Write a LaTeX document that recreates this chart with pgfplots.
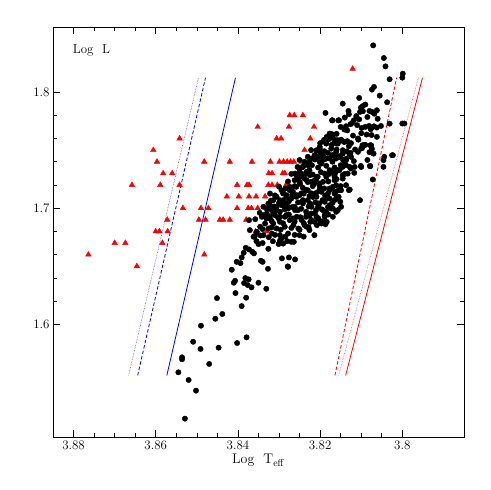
\documentclass[border=0pt]{standalone}
\usepackage{pgfplots}
\pgfplotsset{compat=1.18}
\begin{document}
\begin{tikzpicture}
\begin{axis}[
  scale only axis, width=411bp, height=410bp,
  x dir=reverse, xmin=3.785, xmax=3.885, ymin=1.503, ymax=1.856,
  xtick={3.80,3.82,3.84,3.86,3.88}, xticklabels={3.8,3.82,3.84,3.86,3.88},
  ytick={1.6,1.7,1.8}, yticklabels={1.6,1.7,1.8},
  minor x tick num=3, minor y tick num=4,
  tick align=inside, major tick length=7bp, minor tick length=4bp,
  tick style={black, line width=0.6pt},
  axis line style={line width=0.8pt},
  tick label style={font=\fontsize{13}{15}\selectfont},
  xlabel={Log\ \ T$_{\mathrm{eff}}$},
  xlabel style={font=\fontsize{14}{16}\selectfont, yshift=2bp},
]
% instability strip edges
\addplot[blue!70, densely dotted, line width=0.6pt] coordinates {(3.8666,1.556) (3.8496,1.8123)};
\addplot[blue, dash pattern=on 3.5bp off 2bp, line width=0.8pt] coordinates {(3.8644,1.556) (3.8479,1.8123)};
\addplot[blue, line width=0.8pt] coordinates {(3.8573,1.556) (3.8406,1.8123)};
\addplot[red, dash pattern=on 3.5bp off 2bp, line width=0.8pt] coordinates {(3.8164,1.556) (3.8014,1.8123)};
\addplot[red!70, densely dotted, line width=0.6pt] coordinates {(3.8155,1.556) (3.7961,1.8123)};
\addplot[red, line width=0.8pt] coordinates {(3.8138,1.556) (3.7951,1.8123)};
% red triangles
\addplot[only marks, mark=triangle*, mark size=3.2bp, red] coordinates {
(3.8764,1.66) (3.8700,1.67) (3.8674,1.67) (3.8646,1.65) (3.8658,1.72) (3.8606,1.75)
(3.8597,1.74) (3.8582,1.73) (3.8589,1.72) (3.8560,1.73) (3.8542,1.76) (3.8542,1.72)
(3.8534,1.70) (3.8572,1.69) (3.8600,1.68) (3.8591,1.68) (3.8571,1.68) (3.8584,1.67)
(3.8482,1.74) (3.8490,1.70) (3.8472,1.70) (3.8495,1.69) (3.8479,1.69) (3.8482,1.66)
(3.8444,1.69) (3.8436,1.69) (3.8420,1.69) (3.8420,1.74) (3.8427,1.71) (3.8402,1.72)
(3.8398,1.71) (3.8402,1.70) (3.8378,1.72) (3.8373,1.72) (3.8373,1.71) (3.8380,1.69)
(3.8375,1.70) (3.8367,1.70) (3.8352,1.70) (3.8356,1.71) (3.8366,1.74) (3.8352,1.77)
(3.8334,1.71) (3.8330,1.68) (3.8357,1.68) (3.8326,1.72) (3.8317,1.72) (3.8304,1.72)
(3.8325,1.73) (3.8317,1.73) (3.8321,1.74) (3.8306,1.76) (3.8295,1.76) (3.8299,1.74)
(3.8289,1.74) (3.8280,1.74) (3.8272,1.74) (3.8264,1.74) (3.8291,1.73) (3.8286,1.73)
(3.8283,1.72) (3.8276,1.77) (3.8274,1.78) (3.8263,1.78) (3.8242,1.78) (3.8215,1.77)
(3.8224,1.76) (3.8238,1.75) (3.8245,1.74) (3.8246,1.72) (3.8121,1.82)
};
% black dots
\addplot[only marks, mark=*, mark size=2.7bp, black] coordinates {
(3.8403,1.6538) (3.8394,1.6527) (3.8415,1.6470) (3.8340,1.6538) (3.8327,1.6478) (3.8279,1.6499)
(3.8407,1.6375) (3.8410,1.6358) (3.8382,1.6398) (3.8374,1.6387) (3.8385,1.6355) (3.8376,1.6338)
(3.8367,1.6318) (3.8350,1.6358) (3.8331,1.6306) (3.8406,1.6269) (3.8380,1.6229) (3.8451,1.6226)
(3.8391,1.6157) (3.8438,1.6089) (3.8455,1.6048) (3.8490,1.5988) (3.8509,1.5850) (3.8491,1.5788)
(3.8447,1.5799) (3.8402,1.5839) (3.8379,1.5888) (3.8536,1.5716) (3.8536,1.5699) (3.8470,1.5659)
(3.8545,1.5587) (3.8520,1.5521) (3.8502,1.5429) (3.8529,1.5188)
(3.8391,1.6576) (3.8386,1.6616) (3.8381,1.6659) (3.8365,1.6624) (3.8361,1.6611) (3.8344,1.6547)
(3.8373,1.6645) (3.8355,1.6716) (3.8350,1.6691) (3.8359,1.6759) (3.8355,1.6788) (3.8326,1.6650)
(3.8301,1.6691) (3.8298,1.6719) (3.8294,1.6740) (3.8293,1.6568) (3.8276,1.6576) (3.8278,1.6495)
(3.8261,1.6559) (3.8264,1.6710) (3.8280,1.6716) (3.8250,1.6768) (3.8224,1.6882) (3.8208,1.6854)
(3.8187,1.6862) (3.8184,1.6882) (3.8373,1.6897) (3.8358,1.6905) (3.8347,1.6960)
(3.8338,1.7012) (3.8326,1.7040) (3.8318,1.6983) (3.8330,1.6954) (3.8342,1.6926) (3.8322,1.6911)
(3.8310,1.6940) (3.8298,1.6969) (3.8306,1.7012) (3.8290,1.7026) (3.8278,1.6997) (3.8286,1.6926)
(3.8274,1.6897) (3.8298,1.6883) (3.8314,1.6868) (3.8334,1.6868) (3.8346,1.6840) (3.8326,1.6825)
(3.8306,1.6825) (3.8286,1.6840) (3.8265,1.6854) (3.8253,1.6825) (3.8257,1.6926) (3.8245,1.6897)
(3.8233,1.6940) (3.8221,1.6897) (3.8209,1.6926) (3.8233,1.6840) (3.8197,1.6868) (3.8261,1.6983)
(3.8354,1.6797) (3.8338,1.6768) (3.8318,1.6782) (3.8298,1.6768) (3.8362,1.6754) (3.8371,1.6811)
(3.8278,1.6782) (3.8306,1.7098) (3.8282,1.7098) (3.8294,1.7155) (3.8270,1.7169) (3.8257,1.7112)
(3.8249,1.7212) (3.8241,1.7270) (3.8225,1.7284) (3.8261,1.7298) (3.8245,1.7055) (3.8225,1.7040)
(3.8217,1.7098) (3.8205,1.7012) (3.8189,1.7055) (3.8185,1.6969) (3.8169,1.6997) (3.8161,1.7083)
(3.8177,1.7155) (3.8201,1.7184) (3.8213,1.7241) (3.8185,1.7270) (3.8165,1.7241) (3.8233,1.7155)
(3.8322,1.7126) (3.8314,1.7069)
(3.8177,1.7642) (3.8171,1.7619) (3.8180,1.7591) (3.8189,1.7571) (3.8185,1.7556) (3.8165,1.7571)
(3.8157,1.7556) (3.8151,1.7579) (3.8141,1.7571) (3.8130,1.7534) (3.8201,1.7528) (3.8209,1.7499)
(3.8197,1.7476) (3.8205,1.7442) (3.8213,1.7419) (3.8173,1.7513) (3.8161,1.7485) (3.8169,1.7456)
(3.8153,1.7442) (3.8145,1.7470) (3.8137,1.7413) (3.8238,1.7399) (3.8230,1.7370) (3.8242,1.7356)
(3.8226,1.7327) (3.8234,1.7298) (3.8250,1.7333) (3.8246,1.7298) (3.8258,1.7284) (3.8262,1.7241)
(3.8250,1.7227) (3.8238,1.7255) (3.8222,1.7227) (3.8209,1.7270) (3.8201,1.7212) (3.8189,1.7298)
(3.8173,1.7313) (3.8165,1.7270) (3.8153,1.7327) (3.8145,1.7255) (3.8133,1.7298) (3.8161,1.7198)
(3.8177,1.7170) (3.8149,1.7155) (3.8137,1.7198) (3.8274,1.7184) (3.8266,1.7141) (3.8282,1.7112)
(3.8270,1.7084) (3.8290,1.7069) (3.8294,1.7026) (3.8278,1.7012) (3.8258,1.7098) (3.8246,1.7127)
(3.8234,1.7155) (3.8221,1.7127) (3.8209,1.7098) (3.8197,1.7141) (3.8185,1.7084) (3.8205,1.7041)
(3.8221,1.7012) (3.8242,1.7041) (3.8254,1.6983) (3.8234,1.6969) (3.8213,1.6955) (3.8193,1.6983)
(3.8177,1.7026) (3.8165,1.7069) (3.8157,1.6983) (3.8169,1.6926) (3.8189,1.6926) (3.8306,1.6983)
(3.8314,1.6955) (3.8323,1.6926) (3.8298,1.6926) (3.8282,1.6940) (3.8266,1.6912) (3.8331,1.6912)
(3.8242,1.7356) (3.8233,1.7313) (3.8250,1.7270) (3.8258,1.7184) (3.8274,1.7155) (3.8290,1.7127)
(3.8298,1.7069) (3.8306,1.7012) (3.8250,1.7112) (3.8282,1.7041) (3.8262,1.7012) (3.8242,1.7055)
(3.8233,1.7241) (3.8322,1.7026)
(3.8153,1.7447) (3.8141,1.7407) (3.8145,1.7356) (3.8137,1.7370) (3.8125,1.7341) (3.8117,1.7304)
(3.8145,1.7284) (3.8157,1.7327) (3.8165,1.7284) (3.8177,1.7327) (3.8169,1.7184) (3.8155,1.7155)
(3.8155,1.7098) (3.8151,1.7055) (3.8149,1.7012) (3.8161,1.6969) (3.8173,1.6997) (3.8163,1.7141)
(3.8189,1.6940) (3.8193,1.6883) (3.8214,1.6883) (3.8226,1.6811) (3.8214,1.6768) (3.8238,1.6854)
(3.8202,1.7040) (3.8210,1.6983) (3.8222,1.6954) (3.8234,1.6926) (3.8218,1.7098) (3.8202,1.7155)
(3.8214,1.7212) (3.8230,1.7155) (3.8242,1.7069) (3.8193,1.7227) (3.8206,1.7270) (3.8197,1.7384)
(3.8210,1.7442) (3.8181,1.7126) (3.8177,1.7083) (3.8173,1.7169)
(3.8126,1.7476) (3.8080,1.7482) (3.8023,1.7456) (3.8046,1.7413) (3.8046,1.7356) (3.8079,1.7364)
(3.8101,1.7364) (3.8072,1.7247) (3.8130,1.7155) (3.8103,1.7069) (3.8070,1.7470) (3.8085,1.7415)
(3.8191,1.7584) (3.8185,1.7596) (3.8169,1.7607) (3.8161,1.7584) (3.8149,1.7590) (3.8201,1.7513)
(3.8213,1.7455) (3.8193,1.7455) (3.8185,1.7427) (3.8201,1.7398) (3.8162,1.7441) (3.8136,1.7427)
(3.8141,1.7398) (3.8116,1.7355) (3.8100,1.7355) (3.8078,1.7361) (3.8107,1.7590) (3.8098,1.7518)
(3.8094,1.7541) (3.8076,1.7541) (3.8128,1.7160)
(3.8071,1.8402) (3.8045,1.8293) (3.8041,1.8221) (3.7999,1.8158) (3.8000,1.8124) (3.8031,1.8110)
(3.8069,1.8044) (3.8074,1.8021) (3.8055,1.7969) (3.8105,1.7949) (3.8037,1.7912) (3.8145,1.7900)
(3.8090,1.7892) (3.8097,1.7878) (3.8103,1.7829) (3.8096,1.7835) (3.8131,1.7837) (3.8130,1.7809)
(3.8080,1.7837) (3.8062,1.7843) (3.8074,1.7829) (3.8187,1.7820) (3.8171,1.7757) (3.8154,1.7757)
(3.8118,1.7757) (3.8122,1.7734) (3.8126,1.7723) (3.8137,1.7706) (3.8141,1.7677) (3.8099,1.7691)
(3.8081,1.7708) (3.8077,1.7680) (3.8062,1.7694) (3.8052,1.7708) (3.8000,1.7729) (3.7995,1.7729)
(3.8062,1.7614) (3.8108,1.7600) (3.8171,1.7637) (3.8177,1.7600) (3.8189,1.7591) (3.8184,1.7614)
(3.8157,1.7585) (3.8149,1.7585) (3.8142,1.7571) (3.8161,1.7557) (3.8134,1.7577) (3.8087,1.7634)
(3.8097,1.7542) (3.8100,1.7514) (3.8078,1.7542) (3.8074,1.7511) (3.8025,1.7456) (3.8044,1.7442)
(3.8201,1.7485) (3.8213,1.7456) (3.8181,1.7476) (3.8171,1.7456) (3.8145,1.7499) (3.8129,1.7470)
(3.8108,1.7485) (3.8230,1.7442) (3.8221,1.7428) (3.8193,1.7428) (3.8177,1.7428) (3.8161,1.7428)
(3.8125,1.7442) (3.8134,1.7670) (3.8170,1.7756) (3.8156,1.7756) (3.8068,1.7813) (3.8112,1.7793)
(3.8101,1.7865) (3.8075,1.7693) (3.8069,1.7705) (3.8031,1.7728)
(3.8318,1.6890) (3.8290,1.6870) (3.8262,1.6885) (3.8240,1.6872) (3.8200,1.6890)
(3.8338,1.6940) (3.8302,1.6915) (3.8276,1.6945) (3.8248,1.6922) (3.8226,1.6935) (3.8205,1.6915) (3.8180,1.6945)
(3.8330,1.6995) (3.8312,1.7015) (3.8286,1.6990) (3.8268,1.7010) (3.8246,1.6995) (3.8228,1.7015) (3.8196,1.6990) (3.8181,1.7010)
(3.8320,1.7065) (3.8300,1.7045) (3.8276,1.7060) (3.8254,1.7050) (3.8230,1.7070) (3.8212,1.7050) (3.8194,1.7070) (3.8170,1.7045)
(3.8310,1.7110) (3.8290,1.7130) (3.8268,1.7115) (3.8240,1.7125) (3.8226,1.7105) (3.8210,1.7130) (3.8188,1.7110) (3.8165,1.7125)
(3.8300,1.7185) (3.8284,1.7170) (3.8262,1.7190) (3.8242,1.7175) (3.8218,1.7190) (3.8190,1.7170) (3.8150,1.7190)
(3.8278,1.7230) (3.8256,1.7250) (3.8230,1.7225) (3.8210,1.7245) (3.8180,1.7230) (3.8160,1.7250)
(3.8270,1.7295) (3.8250,1.7310) (3.8218,1.7290) (3.8198,1.7310) (3.8178,1.7295) (3.8162,1.7310) (3.8140,1.7295)
(3.8255,1.7355) (3.8220,1.7370) (3.8205,1.7350) (3.8185,1.7365) (3.8165,1.7350) (3.8150,1.7370) (3.8128,1.7355)
(3.8250,1.7415) (3.8226,1.7400) (3.8190,1.7420) (3.8170,1.7400) (3.8145,1.7420) (3.8118,1.7405)
(3.8222,1.7500) (3.8190,1.7490) (3.8160,1.7505) (3.8135,1.7490) (3.8115,1.7505)
(3.8200,1.7560) (3.8172,1.7545) (3.8125,1.7560) (3.8090,1.7545)
(3.8160,1.7640) (3.8120,1.7625) (3.8100,1.7645) (3.8075,1.7630)
(3.8150,1.7700) (3.8110,1.7715) (3.8090,1.7700)
(3.8140,1.7780) (3.8105,1.7765) (3.8085,1.7785) (3.8060,1.7770)
(3.8340,1.6820) (3.8318,1.6835) (3.8296,1.6815) (3.8270,1.6830) (3.8250,1.6815) (3.8228,1.6835)
(3.8345,1.6765) (3.8325,1.6750) (3.8310,1.6770) (3.8285,1.6755) (3.8262,1.6770) (3.8240,1.6755)
(3.8340,1.6700) (3.8315,1.6715) (3.8290,1.6695) (3.8270,1.6710)
};
\node[anchor=west, font=\fontsize{13}{15}\selectfont] at (axis description cs:0.04,0.944) {Log\ \ L};
\end{axis}
\path[use as bounding box] ([xshift=-53bp,yshift=-53bp]current axis.south west)
  rectangle ([xshift=27bp,yshift=27bp]current axis.north east);
\end{tikzpicture}
\end{document}
